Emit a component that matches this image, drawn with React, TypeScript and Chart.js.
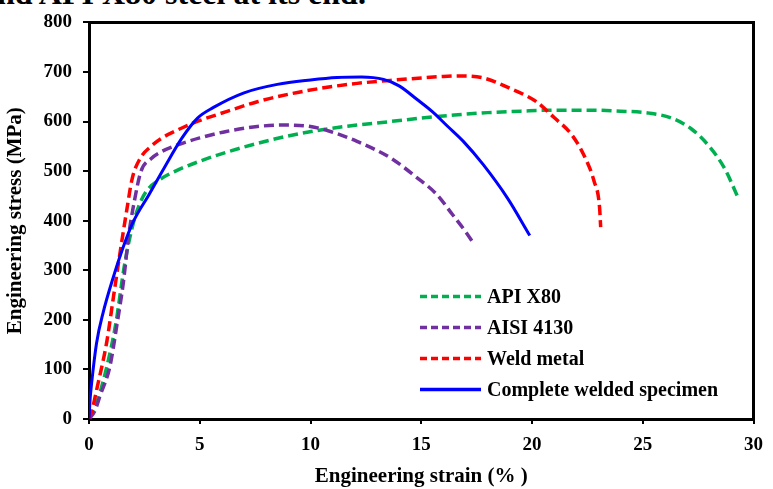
import React, { useEffect, useRef } from "react";
import { Chart, registerables } from "chart.js";

Chart.register(...registerables);

// ---- Data ----
const x80Strain = [0, 0.4, 0.8, 1.2, 1.6, 2.0, 2.3, 2.6, 3.2, 4.0, 5.0, 6.2, 7.6, 9.1, 10.6, 12.1, 13.6, 15.0, 16.5, 18.0, 19.5, 21.0, 22.5, 24.0, 25.3, 26.3, 27.2, 28.0, 28.7, 29.3];
const x80Stress = [0, 40, 105, 190, 310, 395, 435, 460, 483, 502, 520, 538, 556, 572, 584, 593, 600, 607, 613, 618, 621, 623, 623, 621, 617, 607, 585, 550, 505, 447];

const aisiStrain = [0, 0.25, 0.5, 0.95, 1.25, 1.55, 1.8, 2.05, 2.35, 2.8, 3.3, 4.0, 5.0, 6.2, 7.6, 8.8, 10.0, 10.9, 12.1, 13.6, 14.8, 15.7, 16.4, 17.0, 17.4];
const aisiStress = [0, 15, 47, 107, 187, 275, 373, 440, 500, 525, 540, 553, 567, 580, 590, 593, 590, 580, 560, 527, 487, 453, 413, 378, 352];

const weldStrain = [0, 0.15, 0.35, 0.8, 1.1, 1.4, 1.7, 1.95, 2.3, 2.8, 3.3, 4.0, 4.7, 6.2, 7.6, 9.1, 10.6, 12.1, 13.6, 15.0, 16.0, 16.8, 17.8, 19.0, 20.2, 21.0, 21.8, 22.4, 22.8, 23.05, 23.1];
const weldStress = [0, 20, 60, 155, 245, 335, 420, 485, 525, 550, 567, 583, 597, 620, 640, 656, 668, 677, 683, 688, 691, 692, 688, 667, 640, 608, 573, 527, 480, 427, 387];

const fullStrain = [0, 0.05, 0.12, 0.34, 0.64, 1.09, 1.53, 2.0, 2.7, 3.4, 4.2, 4.9, 5.6, 7.0, 8.5, 10.0, 11.2, 12.3, 13.3, 14.0, 14.8, 15.5, 16.2, 16.9, 17.8, 18.9, 19.9];
const fullStress = [0, 40, 73, 153, 215, 285, 345, 398, 452, 507, 567, 607, 628, 658, 675, 684, 689, 690, 685, 672, 645, 620, 590, 560, 513, 445, 370];

const xTicks = [0, 5, 10, 15, 20, 25, 30];
const yTicks = [0, 100, 200, 300, 400, 500, 600, 700, 800];

const FAMILY = '"Liberation Serif", "Times New Roman", serif';
const GREEN = "#00B050";
const PURPLE = "#7030A0";
const RED = "#FF0000";
const BLUE = "#0000FF";

const toPts = (xs: number[], ys: number[]) => xs.map((x, i) => ({ x, y: ys[i] }));

const legendItems = [
  { label: "API X80", color: GREEN, dash: [7, 4] },
  { label: "AISI 4130", color: PURPLE, dash: [7, 4] },
  { label: "Weld metal", color: RED, dash: [7, 4] },
  { label: "Complete welded specimen", color: BLUE, dash: [] as number[] },
];

const framePlugin = {
  id: "frameAndLegend",
  afterDraw(chart: any) {
    const { ctx, chartArea } = chart;
    ctx.save();
    ctx.strokeStyle = "#000";
    ctx.lineWidth = 3;
    ctx.beginPath();
    ctx.moveTo(chartArea.left, chartArea.top);
    ctx.lineTo(chartArea.right, chartArea.top);
    ctx.lineTo(chartArea.right, chartArea.bottom);
    ctx.stroke();

    // legend
    const lx0 = chartArea.left + 331;
    const lx1 = lx0 + 61;
    const tx = lx1 + 6;
    const y0 = chartArea.top + 274;
    const dy = 31;
    ctx.font = `bold 20px ${FAMILY}`;
    ctx.textBaseline = "middle";
    ctx.textAlign = "left";
    legendItems.forEach((it, i) => {
      const y = y0 + i * dy;
      ctx.strokeStyle = it.color;
      ctx.lineWidth = 3.5;
      ctx.setLineDash(it.dash);
      ctx.beginPath();
      ctx.moveTo(lx0, y);
      ctx.lineTo(lx1, y);
      ctx.stroke();
      ctx.setLineDash([]);
      ctx.fillStyle = "#000";
      ctx.fillText(it.label, tx, y + 1);
    });
    ctx.restore();
  },
};

export default function App() {
  const ref = useRef<HTMLCanvasElement>(null);
  useEffect(() => {
    if (!ref.current) return;
    const common = { pointRadius: 0, fill: false, cubicInterpolationMode: "monotone" as const, borderCapStyle: "butt" as const };
    const chart = new Chart(ref.current, {
      type: "line",
      data: {
        datasets: [
          { ...common, label: "Complete welded specimen", data: toPts(fullStrain, fullStress), borderColor: BLUE, borderWidth: 3 },
          { ...common, label: "Weld metal", data: toPts(weldStrain, weldStress), borderColor: RED, borderWidth: 3.5, borderDash: [10, 5] },
          { ...common, label: "AISI 4130", data: toPts(aisiStrain, aisiStress), borderColor: PURPLE, borderWidth: 3.5, borderDash: [10, 5] },
          { ...common, label: "API X80", data: toPts(x80Strain, x80Stress), borderColor: GREEN, borderWidth: 3.5, borderDash: [10, 5] },
        ],
      },
      options: {
        responsive: false,
        animation: false,
        layout: { padding: { top: 19, right: 14, left: 0, bottom: 0 } },
        plugins: { legend: { display: false }, tooltip: { enabled: false } },
        scales: {
          x: {
            type: "linear",
            min: 0,
            max: 30,
            afterBuildTicks: (s: any) => { s.ticks = xTicks.map((v) => ({ value: v })); },
            afterFit: (s: any) => { s.height = 70; },
            ticks: { color: "#000", padding: 10, font: { family: FAMILY, size: 19, weight: "bold" } },
            grid: { drawOnChartArea: false, drawTicks: true, tickLength: 5, color: "#000", lineWidth: 2 },
            border: { display: true, color: "#000", width: 3 },
            title: { display: true, text: "Engineering strain (% )", color: "#000", padding: { top: 0, bottom: 0 }, font: { family: FAMILY, size: 21, weight: "bold" } },
          },
          y: {
            type: "linear",
            min: 0,
            max: 800,
            afterBuildTicks: (s: any) => { s.ticks = yTicks.map((v) => ({ value: v })); },
            afterFit: (s: any) => { s.width = 89; },
            ticks: { color: "#000", padding: 11, font: { family: FAMILY, size: 19, weight: "bold" } },
            grid: { drawOnChartArea: false, drawTicks: true, tickLength: 6, color: "#000", lineWidth: 2 },
            border: { display: true, color: "#000", width: 3 },
            title: { display: true, text: "Engineering stress (MPa)", color: "#000", padding: { top: 3, bottom: 0 }, font: { family: FAMILY, size: 21, weight: "bold" } },
          },
        },
      },
      plugins: [framePlugin],
    } as any);
    return () => chart.destroy();
  }, []);

  return (
    <div style={{ position: "fixed", left: 0, top: 0, width: 773, height: 489, background: "#fff", overflow: "hidden" }}>
      <div
        style={{
          position: "absolute",
          left: -3,
          top: -23,
          font: `bold 32px ${FAMILY}`,
          lineHeight: "32px",
          whiteSpace: "nowrap",
          color: "#000",
        }}
      >
        nd API X80 steel at its end.
      </div>
      <canvas ref={ref} width={773} height={489} style={{ position: "absolute", left: 0, top: 0 }} />
    </div>
  );
}
